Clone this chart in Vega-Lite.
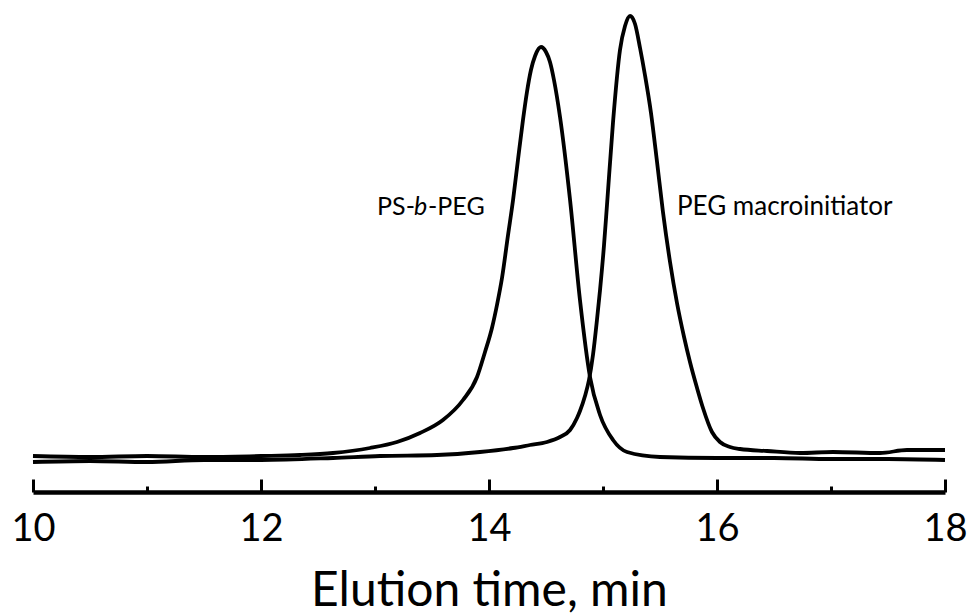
{
  "$schema": "https://vega.github.io/schema/vega-lite/v6.json",
  "width": 912,
  "height": 492,
  "autosize": {"type": "none"},
  "padding": {"left": 33, "top": 0, "right": 25, "bottom": 124},
  "background": "white",
  "config": {"view": {"stroke": null}, "font": "Lato"},
  "datasets": {
    "curves": [
      {"series": "PS-b-PEG", "t": 10.000, "s": 36},
      {"series": "PS-b-PEG", "t": 10.500, "s": 35},
      {"series": "PS-b-PEG", "t": 11.000, "s": 36},
      {"series": "PS-b-PEG", "t": 11.500, "s": 35},
      {"series": "PS-b-PEG", "t": 12.000, "s": 36},
      {"series": "PS-b-PEG", "t": 12.342, "s": 37},
      {"series": "PS-b-PEG", "t": 12.632, "s": 39},
      {"series": "PS-b-PEG", "t": 12.956, "s": 44},
      {"series": "PS-b-PEG", "t": 13.193, "s": 50},
      {"series": "PS-b-PEG", "t": 13.395, "s": 59},
      {"series": "PS-b-PEG", "t": 13.596, "s": 72},
      {"series": "PS-b-PEG", "t": 13.772, "s": 92},
      {"series": "PS-b-PEG", "t": 13.895, "s": 115},
      {"series": "PS-b-PEG", "t": 13.965, "s": 140},
      {"series": "PS-b-PEG", "t": 14.026, "s": 164},
      {"series": "PS-b-PEG", "t": 14.070, "s": 187},
      {"series": "PS-b-PEG", "t": 14.114, "s": 214},
      {"series": "PS-b-PEG", "t": 14.167, "s": 257},
      {"series": "PS-b-PEG", "t": 14.211, "s": 292},
      {"series": "PS-b-PEG", "t": 14.254, "s": 332},
      {"series": "PS-b-PEG", "t": 14.298, "s": 372},
      {"series": "PS-b-PEG", "t": 14.333, "s": 400},
      {"series": "PS-b-PEG", "t": 14.368, "s": 422},
      {"series": "PS-b-PEG", "t": 14.404, "s": 436},
      {"series": "PS-b-PEG", "t": 14.456, "s": 445},
      {"series": "PS-b-PEG", "t": 14.500, "s": 440},
      {"series": "PS-b-PEG", "t": 14.535, "s": 430},
      {"series": "PS-b-PEG", "t": 14.570, "s": 412},
      {"series": "PS-b-PEG", "t": 14.623, "s": 375},
      {"series": "PS-b-PEG", "t": 14.711, "s": 292},
      {"series": "PS-b-PEG", "t": 14.798, "s": 192},
      {"series": "PS-b-PEG", "t": 14.886, "s": 115},
      {"series": "PS-b-PEG", "t": 14.974, "s": 77},
      {"series": "PS-b-PEG", "t": 15.088, "s": 52},
      {"series": "PS-b-PEG", "t": 15.211, "s": 40},
      {"series": "PS-b-PEG", "t": 15.500, "s": 35},
      {"series": "PS-b-PEG", "t": 16.000, "s": 34},
      {"series": "PS-b-PEG", "t": 16.500, "s": 34},
      {"series": "PS-b-PEG", "t": 17.000, "s": 33},
      {"series": "PS-b-PEG", "t": 17.500, "s": 33},
      {"series": "PS-b-PEG", "t": 18.000, "s": 32},
      {"series": "PEG macroinitiator", "t": 10.000, "s": 30},
      {"series": "PEG macroinitiator", "t": 10.500, "s": 31},
      {"series": "PEG macroinitiator", "t": 11.000, "s": 30},
      {"series": "PEG macroinitiator", "t": 11.500, "s": 32},
      {"series": "PEG macroinitiator", "t": 12.000, "s": 32},
      {"series": "PEG macroinitiator", "t": 12.632, "s": 34},
      {"series": "PEG macroinitiator", "t": 13.044, "s": 36},
      {"series": "PEG macroinitiator", "t": 13.544, "s": 37},
      {"series": "PEG macroinitiator", "t": 13.921, "s": 40},
      {"series": "PEG macroinitiator", "t": 14.211, "s": 44},
      {"series": "PEG macroinitiator", "t": 14.360, "s": 47},
      {"series": "PEG macroinitiator", "t": 14.509, "s": 50},
      {"series": "PEG macroinitiator", "t": 14.623, "s": 55},
      {"series": "PEG macroinitiator", "t": 14.711, "s": 62},
      {"series": "PEG macroinitiator", "t": 14.772, "s": 74},
      {"series": "PEG macroinitiator", "t": 14.798, "s": 81},
      {"series": "PEG macroinitiator", "t": 14.842, "s": 96},
      {"series": "PEG macroinitiator", "t": 14.877, "s": 112},
      {"series": "PEG macroinitiator", "t": 14.912, "s": 137},
      {"series": "PEG macroinitiator", "t": 14.947, "s": 172},
      {"series": "PEG macroinitiator", "t": 14.974, "s": 202},
      {"series": "PEG macroinitiator", "t": 15.009, "s": 247},
      {"series": "PEG macroinitiator", "t": 15.035, "s": 287},
      {"series": "PEG macroinitiator", "t": 15.088, "s": 370},
      {"series": "PEG macroinitiator", "t": 15.149, "s": 442},
      {"series": "PEG macroinitiator", "t": 15.193, "s": 466},
      {"series": "PEG macroinitiator", "t": 15.237, "s": 476},
      {"series": "PEG macroinitiator", "t": 15.281, "s": 468},
      {"series": "PEG macroinitiator", "t": 15.325, "s": 444},
      {"series": "PEG macroinitiator", "t": 15.368, "s": 417},
      {"series": "PEG macroinitiator", "t": 15.421, "s": 379},
      {"series": "PEG macroinitiator", "t": 15.474, "s": 330},
      {"series": "PEG macroinitiator", "t": 15.526, "s": 280},
      {"series": "PEG macroinitiator", "t": 15.588, "s": 230},
      {"series": "PEG macroinitiator", "t": 15.649, "s": 189},
      {"series": "PEG macroinitiator", "t": 15.711, "s": 155},
      {"series": "PEG macroinitiator", "t": 15.763, "s": 130},
      {"series": "PEG macroinitiator", "t": 15.825, "s": 104},
      {"series": "PEG macroinitiator", "t": 15.877, "s": 84},
      {"series": "PEG macroinitiator", "t": 15.956, "s": 60},
      {"series": "PEG macroinitiator", "t": 16.026, "s": 50},
      {"series": "PEG macroinitiator", "t": 16.114, "s": 45},
      {"series": "PEG macroinitiator", "t": 16.202, "s": 43},
      {"series": "PEG macroinitiator", "t": 16.439, "s": 41},
      {"series": "PEG macroinitiator", "t": 16.728, "s": 39},
      {"series": "PEG macroinitiator", "t": 17.018, "s": 40},
      {"series": "PEG macroinitiator", "t": 17.430, "s": 39},
      {"series": "PEG macroinitiator", "t": 17.667, "s": 42},
      {"series": "PEG macroinitiator", "t": 18.000, "s": 42}
    ],
    "ann1": [{"t": 13.018, "s": 277, "pre": "PS-", "mid": "b", "post": "-PEG"}],
    "ann2": [{"t": 15.649, "s": 277, "label": "PEG macroinitiator"}]
  },
  "layer": [
    {
      "data": {"name": "curves"},
      "mark": {"type": "line", "interpolate": "monotone", "color": "black", "strokeWidth": 3.8, "strokeJoin": "round"},
      "encoding": {
        "x": {
          "field": "t", "type": "quantitative",
          "scale": {"domain": [10, 18], "nice": false, "zero": false},
          "axis": {
            "orient": "bottom",
            "values": [10, 12, 14, 16, 18], "format": "d", "grid": false,
            "tickSize": -13, "tickWidth": 3, "tickColor": "black",
            "domainColor": "black", "domainWidth": 4.5,
            "labelFont": "Lato", "labelFontSize": 38, "labelColor": "black",
            "labelFlush": false, "labelOverlap": false, "labelBaseline": "alphabetic", "labelPadding": 61,
            "title": "Elution time, min", "titleFont": "Lato", "titleFontSize": 48,
            "titleFontWeight": "normal", "titleColor": "black", "titleBaseline": "alphabetic",
            "titleAnchor": "middle", "titleY": 113
          }
        },
        "y": {"field": "s", "type": "quantitative", "scale": {"domain": [0, 492]}, "axis": null},
        "detail": {"field": "series"}
      }
    },
    {
      "data": {"name": "ann1"},
      "mark": {"type": "text", "align": "left", "baseline": "alphabetic", "font": "Lato", "fontSize": 25, "color": "black"},
      "encoding": {
        "x": {
          "field": "t", "type": "quantitative",
          "scale": {"domain": [10, 18], "nice": false, "zero": false},
          "axis": {
            "orient": "bottom",
            "values": [11, 13, 15, 17], "grid": false, "labels": false, "domain": false,
            "tickSize": -6, "tickWidth": 3, "tickColor": "black", "title": null
          }
        },
        "y": {"field": "s", "type": "quantitative", "scale": {"domain": [0, 492]}, "axis": null},
        "text": {"field": "pre"}
      }
    },
    {
      "data": {"name": "ann1"},
      "mark": {"type": "text", "align": "left", "baseline": "alphabetic", "font": "Lato", "fontSize": 25, "fontStyle": "italic", "color": "black", "dx": 37},
      "encoding": {
        "x": {"field": "t", "type": "quantitative", "scale": {"domain": [10, 18], "nice": false, "zero": false}, "axis": null},
        "y": {"field": "s", "type": "quantitative", "scale": {"domain": [0, 492]}, "axis": null},
        "text": {"field": "mid"}
      }
    },
    {
      "data": {"name": "ann1"},
      "mark": {"type": "text", "align": "left", "baseline": "alphabetic", "font": "Lato", "fontSize": 25, "color": "black", "dx": 51},
      "encoding": {
        "x": {"field": "t", "type": "quantitative", "scale": {"domain": [10, 18], "nice": false, "zero": false}, "axis": null},
        "y": {"field": "s", "type": "quantitative", "scale": {"domain": [0, 492]}, "axis": null},
        "text": {"field": "post"}
      }
    },
    {
      "data": {"name": "ann2"},
      "mark": {"type": "text", "align": "left", "baseline": "alphabetic", "font": "Lato", "fontSize": 26, "color": "black"},
      "encoding": {
        "x": {"field": "t", "type": "quantitative", "scale": {"domain": [10, 18], "nice": false, "zero": false}, "axis": null},
        "y": {"field": "s", "type": "quantitative", "scale": {"domain": [0, 492]}, "axis": null},
        "text": {"field": "label"}
      }
    }
  ],
  "resolve": {"axis": {"x": "independent"}}
}
